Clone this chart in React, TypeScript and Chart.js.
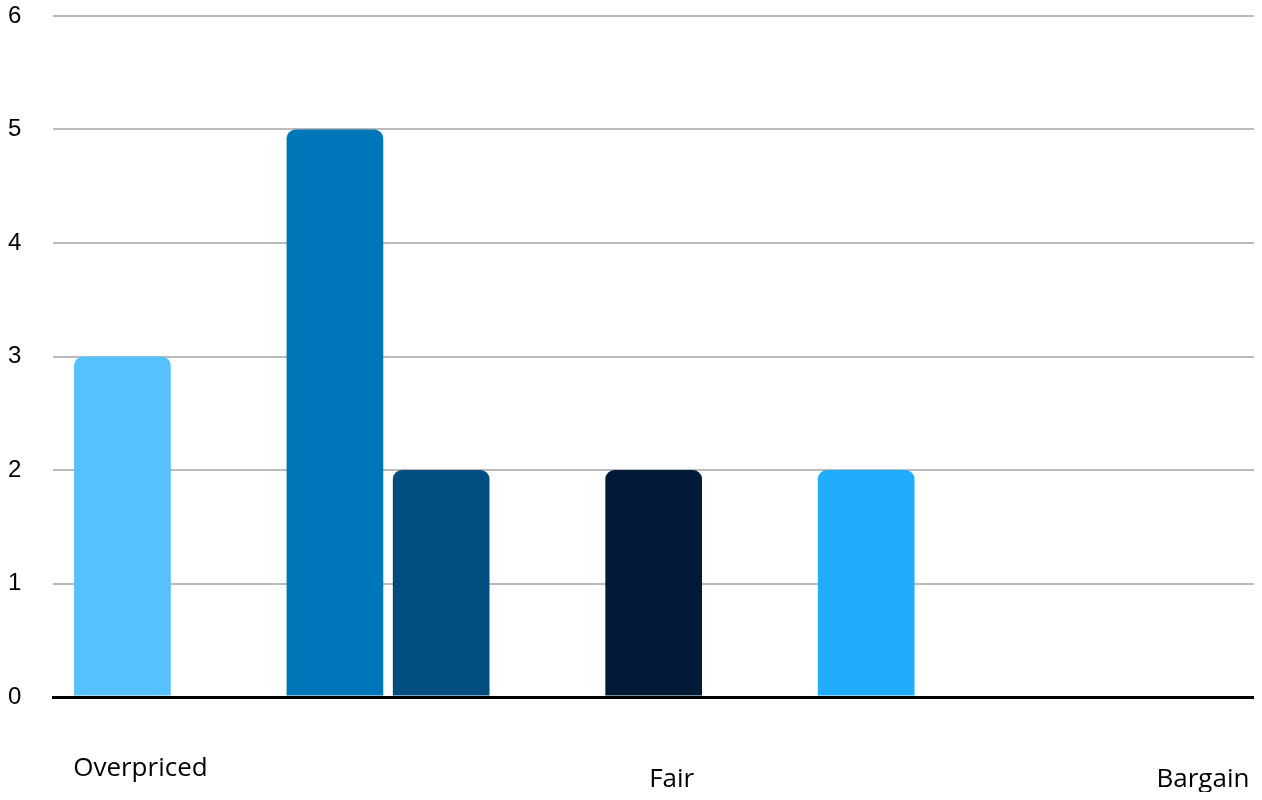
import React, { useEffect, useRef } from "react";
import { Chart, registerables } from "chart.js";

Chart.register(...registerables);

// Rating positions (0 = Overpriced ... 10 = Bargain) that received votes
const ratingPositions = [0, 2, 3, 5, 7];
const voteCounts = [3, 5, 2, 2, 2];
const barColors = ["#56C1FF", "#0076BA", "#004D80", "#011A38", "#22ACFF"];

// x-axis labels and where they sit on the rating scale
const tickValues = [0, 5, 10];
const tickLabels = ["Overpriced", "Fair", "Bargain"];

// y-axis
const yMin = 0;
const yMax = 6;
const yStep = 1;

export default function App() {
  const canvasRef = useRef<HTMLCanvasElement | null>(null);

  useEffect(() => {
    const canvas = canvasRef.current;
    if (!canvas) return;

    const chart = new Chart(canvas, {
      type: "bar",
      data: {
        datasets: [
          {
            data: ratingPositions.map((x, i) => ({ x, y: voteCounts[i] })),
            backgroundColor: barColors,
            borderWidth: 0,
            borderRadius: { topLeft: 9, topRight: 9, bottomLeft: 0, bottomRight: 0 },
            borderSkipped: "start",
            categoryPercentage: 1,
            barPercentage: 0.91,
          },
        ],
      },
      options: {
        animation: false,
        responsive: true,
        maintainAspectRatio: false,
        layout: { padding: 0 },
        plugins: {
          legend: { display: false },
          tooltip: { enabled: false },
          title: { display: false },
        },
        scales: {
          x: {
            type: "linear",
            min: -0.65,
            max: 10.65,
            offset: false,
            z: 1,
            grid: {
              display: true,
              drawOnChartArea: false,
              drawTicks: true,
              tickLength: 71,
              tickColor: "rgba(0,0,0,0)",
              offset: false,
            },
            border: { display: true, color: "#000000", width: 3 },
            afterBuildTicks: (scale: any) => {
              scale.ticks = tickValues.map((v) => ({ value: v }));
            },
            ticks: {
              padding: 0,
              labelOffset: 18,
              maxRotation: 0,
              minRotation: 0,
              autoSkip: false,
              color: "#000000",
              font: (ctx: any) => ({
                family: "'Open Sans', sans-serif",
                size: 26,
                lineHeight: ctx.index === 0 ? "2px" : "24px",
              }),
              callback: (_v: any, index: number) => tickLabels[index],
            },
          },
          y: {
            min: yMin,
            max: yMax,
            grid: {
              display: true,
              drawTicks: true,
              tickLength: 32,
              tickColor: "rgba(0,0,0,0)",
              color: (ctx: any) => (ctx.tick && ctx.tick.value === 0 ? "#000000" : "#BBBBBB"),
              lineWidth: (ctx: any) => (ctx.tick && ctx.tick.value === 0 ? 3 : 2),
            },
            border: { display: false },
            ticks: {
              stepSize: yStep,
              padding: 0,
              color: "#000000",
              font: { family: "'Liberation Sans', Arial, sans-serif", size: 24, lineHeight: "32px" },
            },
          },
        },
      },
    });

    return () => chart.destroy();
  }, []);

  return (
    <div style={{ position: "absolute", left: 8, top: 0, width: 1246, height: 792 }}>
      <canvas ref={canvasRef} />
    </div>
  );
}
